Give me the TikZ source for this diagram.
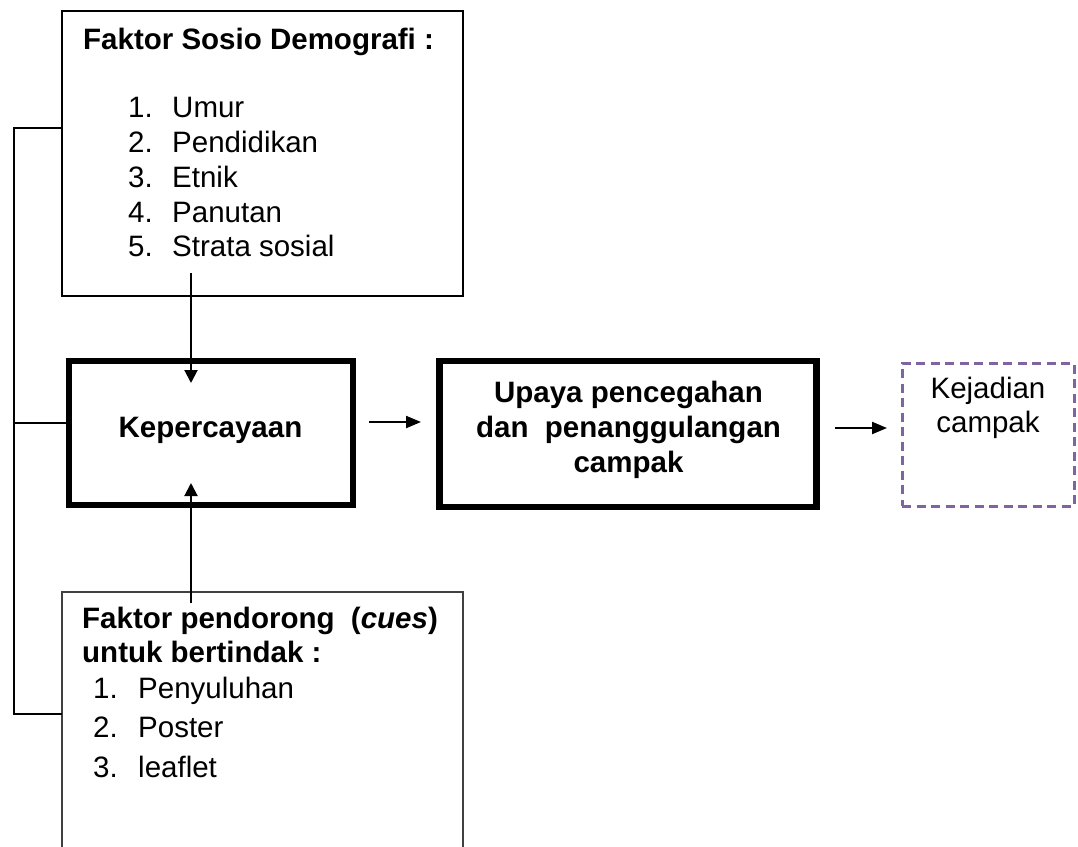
\documentclass[tikz,border=0pt]{standalone}
\usepackage{fontspec}
\setmainfont{Liberation Sans}
\usetikzlibrary{arrows.meta}
\definecolor{dashpurple}{HTML}{8064A2}
\begin{document}
\begin{tikzpicture}[x=1pt,y=-1pt,
  txt/.style={anchor=base west,inner sep=0pt,font=\fontsize{29.5}{35}\selectfont},
  ctxt/.style={anchor=base,inner sep=0pt,font=\fontsize{29.5}{35}\selectfont},
  thinbox/.style={draw,line width=2.2pt,inner sep=0pt},
  thickbox/.style={draw,line width=6.5pt,inner sep=0pt},
  conn/.style={line width=2.2pt},
  varr/.style={line width=2pt,-{Triangle[length=13pt,width=13pt]}},
  harr/.style={line width=2.2pt,-{Triangle[length=15pt,width=12pt]}}]
\useasboundingbox (0,0) rectangle (1078,846);
% boxes
\node[thinbox,minimum width=401pt,minimum height=285pt] (topbox) at (262.5,153.5) {};
\node[thickbox,minimum width=284pt,minimum height=144pt] (kep) at (211,433) {};
\node[thickbox,minimum width=377pt,minimum height=146pt] (upaya) at (628,434) {};
\node[draw=dashpurple,line width=3pt,dash pattern=on 9pt off 5.5pt,inner sep=0pt,minimum width=172pt,minimum height=143pt] (kej) at (988,434.5) {};
\node[inner sep=0pt,minimum width=401pt,minimum height=262pt] (bot) at (262.5,723) {};
\draw[line width=1.6pt,black!75] (bot.south west) -- (bot.north west) -- (bot.north east) -- (bot.south east);
% texts top box
\node[txt] (t0) at (83,49) {\bfseries Faktor Sosio Demografi :};
\node[txt] (n1) at (128,117) {1.};
\node[txt] (i1) at (172,117) {Umur};
\node[txt] (n2) at (128,152) {2.};
\node[txt] (i2) at (172,152) {Pendidikan};
\node[txt] (n3) at (128,187) {3.};
\node[txt] (i3) at (172,187) {Etnik};
\node[txt] (n4) at (128,222) {4.};
\node[txt] (i4) at (172,222) {Panutan};
\node[txt] (n5) at (128,256) {5.};
\node[txt] (i5) at (172,256) {Strata sosial};
% middle texts
\node[ctxt] (kt) at (210.5,437) {\bfseries Kepercayaan};
\node[ctxt] (u1) at (628.5,402) {\bfseries Upaya pencegahan};
\node[ctxt] (u2) at (628.5,437) {\bfseries dan\ \ penanggulangan};
\node[ctxt] (u3) at (628.5,472) {\bfseries campak};
\node[ctxt] (k1) at (988,398) {Kejadian};
\node[ctxt] (k2) at (988,432) {campak};
% bottom texts
\node[txt] (b0) at (82,628) {\bfseries Faktor pendorong\ \ (\textit{cues})};
\node[txt] (b1) at (82,662) {\bfseries untuk bertindak :};
\node[txt] (m1) at (93,698) {1.};
\node[txt] (j1) at (138,698) {Penyuluhan};
\node[txt] (m2) at (93,737) {2.};
\node[txt] (j2) at (138,737) {Poster};
\node[txt] (m3) at (93,777) {3.};
\node[txt] (j3) at (138,777) {leaflet};
% connectors
\coordinate (c1) at (14,128);
\coordinate (c2) at (14,423);
\coordinate (c3) at (14,714);
\draw[conn] (topbox.west |- c1) -- (c1) -- (c3) -- (bot.west |- c3);
\draw[conn] (c2) -- (kep.west |- c2);
\coordinate (a1s) at (191,273);
\coordinate (a1e) at (191,383);
\draw[varr] (a1s) -- (a1e);
\coordinate (a2s) at (191,603);
\coordinate (a2e) at (191,483);
\draw[varr] (a2s) -- (a2e);
\coordinate (h1s) at (369,422);
\coordinate (h1e) at (421,422);
\draw[harr] (h1s) -- (h1e);
\coordinate (h2s) at (835,428);
\coordinate (h2e) at (887,428);
\draw[harr] (h2s) -- (h2e);
\end{tikzpicture}
\end{document}
